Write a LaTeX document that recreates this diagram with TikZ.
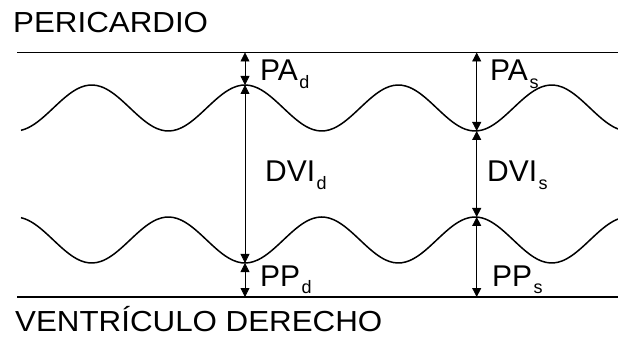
\documentclass[tikz,border=0pt]{standalone}
\usepackage{fontspec}
\setmainfont{Liberation Sans}
\newfontfamily\titlefont[FakeStretch=1.08]{Liberation Sans}
\usetikzlibrary{arrows.meta}
\newcommand{\sublbl}[2]{#1\kern1.5pt\raisebox{-8pt}{\fontsize{18}{18}\selectfont #2}}

\begin{document}
\begin{tikzpicture}[x=1pt,y=-1pt,>={Triangle[length=9pt,width=9pt]},
  border/.style={line width=1.8pt},
  wall/.style={line width=1.5pt},
  dim/.style={<->,line width=0.8pt},
  lbl/.style={anchor=base west,inner sep=0pt,font=\fontsize{30}{30}\selectfont},
  title/.style={anchor=base west,inner sep=0pt,font=\titlefont\fontsize{29}{29}\selectfont}]
  \useasboundingbox (0,0) rectangle (618,347);

  % pericardium and ventricle limits
  \draw[border] (17,52.5) -- (618,52.5);
  \draw[border] (17,297) -- (618,297);

  % the two walls of the septum
  \draw[wall] plot[domain=21:618,samples=150,smooth]
    (\x,{108-23*cos(2.3479*(\x-245))});
  \draw[wall] plot[domain=21:618,samples=150,smooth]
    (\x,{240+23*cos(2.3479*(\x-245))});

  % diastole
  \coordinate (topD) at (245,52.5);
  \coordinate (upD)  at (245,85);
  \coordinate (lowD) at (245,263);
  \coordinate (botD) at (245,297);
  % systole
  \coordinate (topS) at (476.7,52.5);
  \coordinate (upS)  at (476.7,131);
  \coordinate (lowS) at (476.7,217);
  \coordinate (botS) at (476.7,297);

  \draw[dim] (topD) -- (upD);
  \draw[dim] (upD) -- (lowD);
  \draw[dim] (lowD) -- (botD);
  \draw[dim] (topS) -- (upS);
  \draw[dim] (upS) -- (lowS);
  \draw[dim] (lowS) -- (botS);

  \node[lbl] (paD)  at (260,81)  {\sublbl{PA}{d}};
  \node[lbl] (dviD) at (265,182) {\sublbl{DVI}{d}};
  \node[lbl] (ppD)  at (260,286) {\sublbl{PP}{d}};
  \node[lbl] (paS)  at (490,81)  {\sublbl{PA}{s}};
  \node[lbl] (dviS) at (487,182) {\sublbl{DVI}{s}};
  \node[lbl] (ppS)  at (492,286) {\sublbl{PP}{s}};

  \node[title] (peri) at (13,33)  {PERICARDIO};
  \node[title] (vent) at (15,331) {VENTRÍCULO DERECHO};
\end{tikzpicture}
\end{document}
